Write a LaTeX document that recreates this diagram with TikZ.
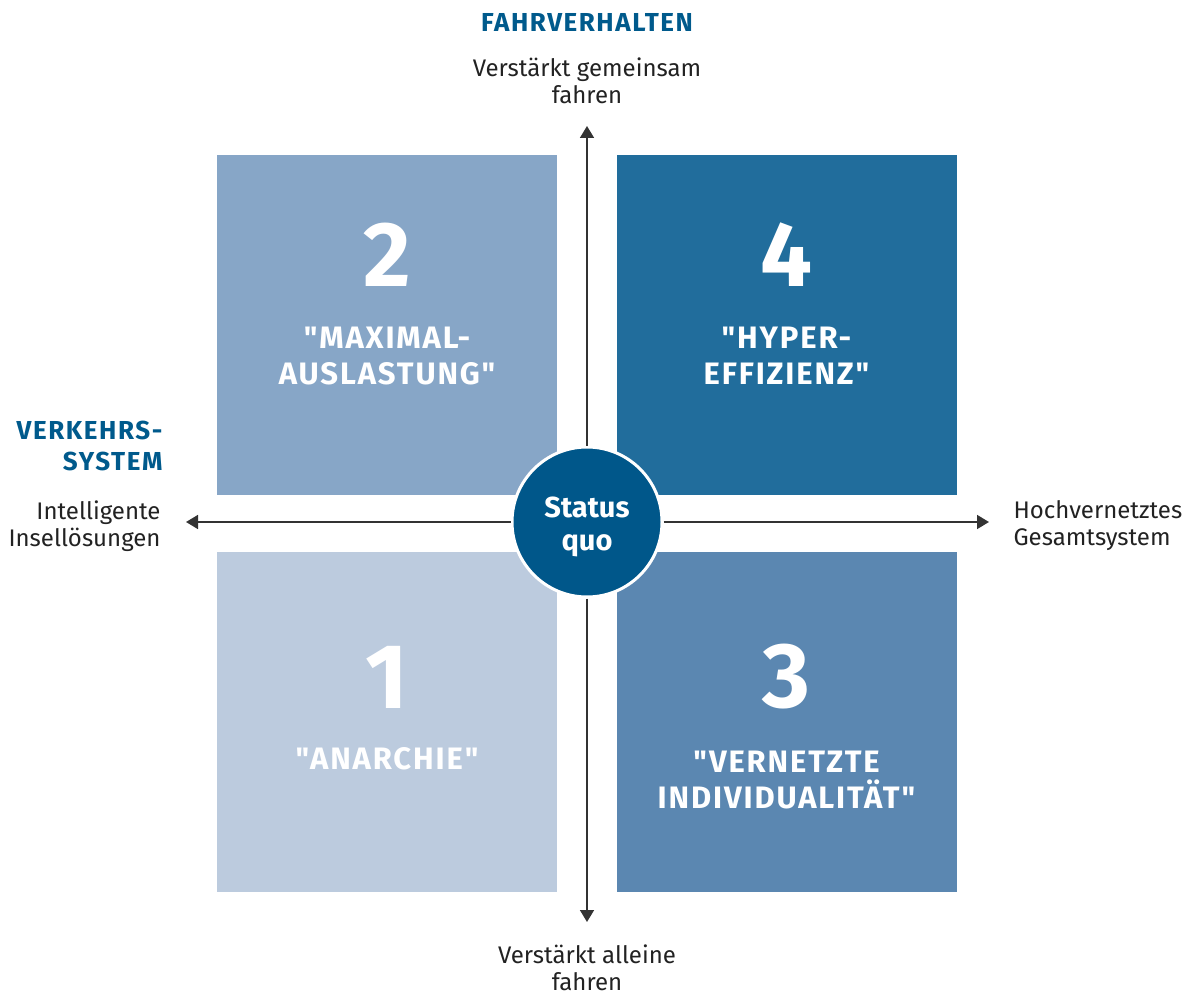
\documentclass[tikz,border=0pt]{standalone}
\usepackage{fontspec}
\setmainfont{Fira Sans}
\newfontfamily\capsfont{Fira Sans}[LetterSpace=6.0]
\usetikzlibrary{arrows.meta}

\definecolor{headblue}{HTML}{005A8C}
\definecolor{quoblue}{HTML}{00578A}
\definecolor{qone}{HTML}{BCCBDE}
\definecolor{qtwo}{HTML}{87A6C7}
\definecolor{qthree}{HTML}{5B87B1}
\definecolor{qfour}{HTML}{216D9C}
\definecolor{textgray}{HTML}{222222}
\definecolor{linegray}{HTML}{333333}

\tikzset{
  quad/.style={minimum size=340pt, inner sep=0pt, outer sep=0pt},
  bignum/.style={text=white, font=\fontsize{92}{92}\bfseries\selectfont},
  qlabel/.style={text=white, align=center, font=\capsfont\fontsize{31}{36}\bfseries\selectfont},
  heading/.style={text=headblue, align=center, font=\capsfont\fontsize{26}{31}\bfseries\selectfont},
  axislabel/.style={text=textgray, font=\fontsize{24}{27}\selectfont},
  axis/.style={draw=linegray, line width=1.6pt, -{Triangle[width=14pt,length=12pt]}},
}

\begin{document}
\begin{tikzpicture}[x=1pt, y=-1pt]
      \useasboundingbox (0,0) rectangle (1197,995);
      % quadrants
      \node[quad, fill=qtwo] (q2) at (387,325) {};
      \node[quad, fill=qfour] (q4) at (786.5,325) {};
      \node[quad, fill=qone] (q1) at (387,722) {};
      \node[quad, fill=qthree] (q3) at (786.5,722) {};
      \node[bignum] (n2) at (387,255) {2};
      \node[bignum] (n4) at (786.5,255) {4};
      \node[bignum] (n1) at (387,677) {1};
      \node[bignum] (n3) at (786.5,677) {3};
      \node[qlabel] (l2) at (387,356) {"MAXIMAL-\\AUSLASTUNG"};
      \node[qlabel] (l4) at (786.5,356) {"HYPER-\\EFFIZIENZ"};
      \node[qlabel] (l1) at (387,759) {"ANARCHIE"};
      \node[qlabel] (l3) at (786.5,780) {"VERNETZTE\\INDIVIDUALITÄT"};
      % axes
      \node[circle, fill=quoblue, draw=white, line width=3pt, minimum size=150pt] (sq) at (587,522) {};
      \coordinate (top) at (587,126);
      \coordinate (bottom) at (587,922);
      \coordinate (left) at (186,522);
      \coordinate (right) at (989,522);
      \draw[axis] (sq) -- (top);
      \draw[axis] (sq) -- (bottom);
      \draw[axis] (sq) -- (left);
      \draw[axis] (sq) -- (right);
      \node[text=white, align=center, font=\fontsize{29}{33}\bfseries\selectfont] (sqt) at (587,527) {Status\\quo};
      % labels
      \node[heading] (fv) at (587,22) {FAHRVERHALTEN};
      \node[axislabel, align=center] (up) at (587,81) {Verstärkt gemeinsam\\fahren};
      \node[axislabel, align=center] (down) at (587,968) {Verstärkt alleine\\fahren};
      \node[heading, align=right, anchor=east] (vs) at (166,446) {VERKEHRS-\\SYSTEM};
      \node[axislabel, align=right, anchor=east] (lt) at (164,526) {Intelligente\\Insellösungen};
      \node[axislabel, align=left, anchor=west] (rt) at (1010,526) {Hochvernetztes\\Gesamtsystem};
    \end{tikzpicture}
\end{document}
